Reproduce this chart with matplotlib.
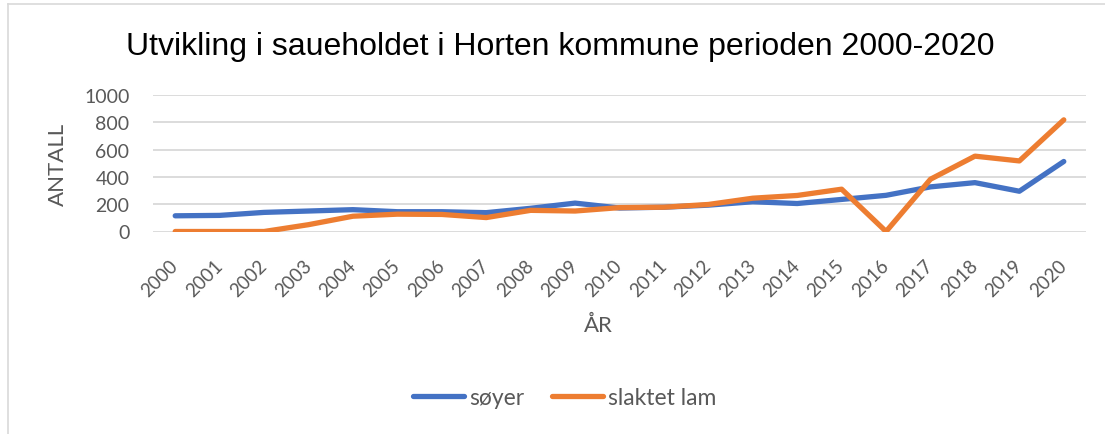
import matplotlib
matplotlib.use("Agg")
import matplotlib.pyplot as plt
from matplotlib.lines import Line2D

years = [str(y) for y in range(2000, 2021)]
soyer = [115, 118, 140, 150, 160, 145, 145, 138, 170, 208, 172, 178, 193, 218, 205, 235, 265, 327, 358, 295, 513]
slaktet_lam = [0, 0, 0, 50, 112, 127, 125, 102, 155, 150, 175, 178, 198, 244, 264, 310, 0, 383, 552, 517, 818]

title = "Utvikling i saueholdet i Horten kommune perioden 2000-2020"
series_names = ["søyer", "slaktet lam"]
colors = ["#4472C4", "#ED7D31"]
gray = "#595959"

W, H = 1105, 435
fig = plt.figure(figsize=(W / 100, H / 100), dpi=100)

left, right, top, bottom = 153, 1086, 96, 232.5
ax = fig.add_axes([left / W, 1 - bottom / H, (right - left) / W, (bottom - top) / H])

x = list(range(len(years)))
for vals, name, c in zip([soyer, slaktet_lam], series_names, colors):
    ax.plot(x, vals, color=c, lw=3.8, solid_capstyle="round", solid_joinstyle="round", label=name, zorder=3)

ax.set_xlim(-0.5, len(years) - 0.5)
ax.set_ylim(0, 1000)
ax.set_yticks(range(0, 1001, 200))
ax.set_xticks(x)
ax.set_xticklabels(years, rotation=45, ha="right", va="center", rotation_mode="anchor",
                   fontsize=13.5, color=gray, family="Lato")
for lbl in ax.get_yticklabels():
    lbl.set_fontsize(14)
    lbl.set_color(gray)
    lbl.set_family("Lato")
ax.tick_params(axis="both", length=0)
ax.tick_params(axis="y", pad=17)
ax.tick_params(axis="x", pad=22)
ax.grid(axis="y", color="#d9d9d9", lw=1.3)
ax.set_axisbelow(True)
for s in ax.spines.values():
    s.set_visible(False)

fig.text(58 / W, 1 - 164 / H, "ANTALL", rotation=90, ha="center", va="center", fontsize=16, color=gray, family="Lato")
fig.text(598 / W, 1 - 326 / H, "ÅR", ha="center", va="center", fontsize=16, color=gray, family="Lato")

fig.text(560 / W, 1 - 55 / H, title, ha="center", va="baseline", fontsize=23, family="Liberation Sans", color="black")

handles = [Line2D([0], [0], color=c, lw=3.8, solid_capstyle="round") for c in colors]
leg = fig.legend(handles, series_names, loc="center", bbox_to_anchor=(565 / W, 1 - 399 / H), ncol=2,
                 frameon=False, handlelength=2.2, columnspacing=1.2, handletextpad=0.25,
                 prop={"family": "Lato", "size": 16.5})
for t in leg.get_texts():
    t.set_color(gray)

# light border like the chart area outline
fig.add_artist(Line2D([8 / W, 8 / W], [0, 1 - 5 / H], color="#d9d9d9", lw=1.2, transform=fig.transFigure))
fig.add_artist(Line2D([8 / W, 1], [1 - 5 / H, 1 - 5 / H], color="#d9d9d9", lw=1.2, transform=fig.transFigure))

fig.savefig("out.png", dpi=100)
